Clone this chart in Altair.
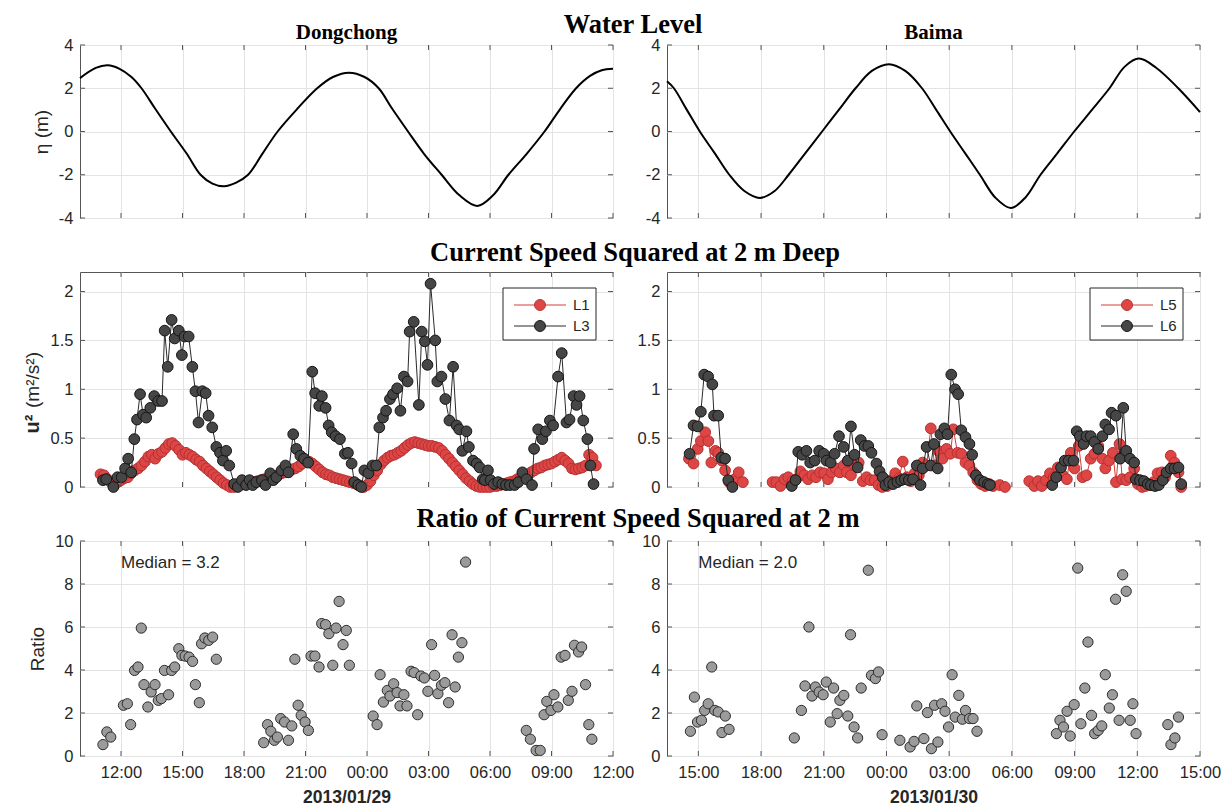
import altair as alt
import pandas as pd

# ---------------- data (hours since 00:00 of the panel's first date) ----------------
# Water level, Dongchong (left, from 2013/01/29 00:00)
wl_left_t = [10.0, 10.77, 11.35, 11.93, 12.51, 13.0, 13.67, 14.43, 15.21, 15.88, 16.46, 17.03,
             17.62, 18.2, 18.87, 19.64, 20.6, 21.57, 22.34, 23.12, 23.88, 24.57, 25.23, 26.0,
             26.78, 27.64, 28.51, 29.38, 30.15, 30.9, 31.79, 32.66, 33.43, 34.2, 34.88, 35.45,
             36.0]
wl_left_v = [2.47, 2.94, 3.06, 2.90, 2.52, 2.0, 1.05, 0.0, -1.03, -2.0, -2.41, -2.53,
             -2.36, -2.0, -1.07, 0.0, 1.05, 2.0, 2.52, 2.72, 2.52, 2.0, 1.05, 0.0,
             -1.03, -2.0, -2.95, -3.44, -2.95, -2.0, -1.03, 0.0, 1.05, 2.0, 2.57, 2.83,
             2.9]
# Water level, Baima (right, from 2013/01/30 00:00)
wl_right_t = [13.5, 13.83, 14.45, 15.07, 15.78, 16.48, 17.2, 17.95, 18.65, 19.32, 20.12, 20.92,
              21.72, 22.52, 23.3, 24.12, 24.9, 25.7, 26.38, 27.05, 27.76, 28.47, 29.2, 29.95,
              30.65, 31.37, 32.18, 32.98, 33.83, 34.67, 35.4, 36.08, 36.9, 37.96, 39.0]
wl_right_v = [2.32, 2.0, 1.0, 0.0, -1.0, -2.0, -2.75, -3.07, -2.75, -2.0, -1.0, 0.0,
              1.0, 2.0, 2.8, 3.11, 2.8, 2.0, 1.0, 0.0, -1.0, -2.0, -3.05, -3.54,
              -3.05, -2.0, -1.0, 0.0, 1.0, 2.0, 3.0, 3.37, 2.95, 2.0, 0.9]

# Current speed squared, L1 (10-min samples starting 11:00, 2013/01/29)
L1_start = 11.0
L1_v = [.13, .12, .08, .05, .03, .05, .07, .09, .10, .14, .17, .19, .22, .26, .31, .33, .29, .34,
        .36, .40, .44, .45, .42, .38, .33, .35, .33, .31, .28, .26, .22, .19, .16, .13, .10, .07,
        .04, .02, .00, .00, .01, .02, .03, .04, .04, .05, .06, .07, .08, .09, .10, .11, .12, .14,
        .15, .16, .18, .19, .21, .24, .27, .26, .24, .21, .18, .15, .13, .12, .10, .09, .08, .07,
        .06, .05, .04, .03, .01, .00, .02, .06, .12, .17, .23, .27, .30, .32, .33, .35, .37, .40,
        .43, .45, .46, .45, .44, .43, .42, .42, .41, .40, .37, .33, .29, .25, .21, .17, .13, .09,
        .06, .03, .01, .00, .00, .00, .00, .01, .01, .02, .03, .04, .05, .06, .08, .10, .12, .13,
        .15, .17, .19, .20, .22, .23, .24, .26, .28, .30, .27, .24, .19, .18, .19, .20, .22, .33,
        .30, .22]
# L3
L3_t = [11.12, 11.28, 11.63, 11.83, 12.03, 12.2, 12.35, 12.5, 12.65, 12.78, 12.93, 13.08, 13.23,
        13.43, 13.62, 13.82, 14.0, 14.13, 14.28, 14.47, 14.62, 14.82, 14.97, 15.1, 15.3, 15.48,
        15.63, 15.78, 15.97, 16.13, 16.27, 16.45, 16.65, 16.83, 16.97, 17.13, 17.28, 17.52, 17.7,
        17.9, 18.1, 18.27, 18.43, 18.6, 18.87, 19.05, 19.28, 19.43, 19.58, 19.83, 20.02, 20.17,
        20.4, 20.55, 20.75, 20.93, 21.13, 21.33, 21.47, 21.67, 21.8, 21.98, 22.13, 22.28, 22.47,
        22.68, 22.92, 23.07, 23.25, 23.38, 23.57, 23.72, 23.87, 24.07, 24.27, 24.45, 24.6, 24.78,
        24.93, 25.12, 25.27, 25.47, 25.63, 25.8, 25.98, 26.08, 26.28, 26.53, 26.67, 26.82, 26.95,
        27.1, 27.33, 27.43, 27.63, 27.82, 28.02, 28.2, 28.37, 28.5, 28.65, 28.85, 28.97, 29.17,
        29.35, 29.5, 29.65, 29.75, 29.9, 30.03, 30.2, 30.4, 30.6, 30.78, 30.97, 31.2, 31.38, 31.58,
        31.78, 32.05, 32.15, 32.35, 32.55, 32.73, 32.92, 33.08, 33.32, 33.5, 33.73, 33.88, 34.08,
        34.22, 34.37, 34.55, 34.75, 34.9, 35.05]
L3_v = [.07, .08, .00, .10, .10, .19, .29, .15, .49, .69, .95, .74, .71,
        .81, .93, .88, .88, 1.60, 1.23, 1.71, 1.52, 1.60, 1.35, 1.54, 1.54, 1.23,
        .98, .66, .98, .96, .73, .61, .41, .35, .27, .37, .22, .03, .00,
        .07, .02, .07, .02, .05, .07, .02, .14, .07, .10, .17, .22, .15,
        .54, .39, .32, .29, .25, 1.18, .96, .83, .93, .81, .63, .56, .52,
        .49, .34, .35, .24, .05, .02, .00, .17, .14, .22, .22, .61, .71,
        .78, .90, .95, 1.01, .78, 1.13, 1.08, 1.59, 1.69, .84, 1.59, 1.49, 1.25,
        2.08, 1.50, 1.08, 1.13, .90, .68, 1.23, .63, .59, .37, .57, .41, .27,
        .24, .20, .08, .07, .17, .07, .03, .05, .03, .02, .02, .02, .05, .15,
        .08, .02, .39, .59, .49, .57, .68, .63, 1.13, 1.37, .66, .69, .93,
        .84, .93, .68, .49, .22, .03]
# L5 (right, hours since 2013/01/30 00:00)
L5_t = [14.55, 14.77, 14.97, 15.12, 15.33, 15.48, 15.62, 15.82, 15.95, 16.13, 16.28, 16.47,
        16.75, 16.93, 17.13,
        18.55, 18.73, 18.93, 19.12, 19.3, 19.5, 19.68, 19.88, 20.07, 20.25, 20.45, 20.63, 20.82,
        21.02, 21.2, 21.38, 21.58, 21.77, 21.95, 22.1, 22.3, 22.48, 22.67, 22.87, 23.05, 23.23,
        23.43, 23.62, 23.8, 24.03, 24.22, 24.42, 24.6, 24.78, 24.98, 25.17, 25.35, 25.55, 25.73,
        25.92, 26.12, 26.3, 26.48, 26.68, 26.87, 27.05, 27.2, 27.4, 27.58, 27.78, 27.97, 28.15,
        28.35, 28.53, 28.72, 28.92, 29.1, 29.42, 29.67,
        30.83, 31.07, 31.25, 31.43, 31.63, 31.82, 32.0, 32.2, 32.43, 32.63, 32.82, 33.0, 33.2,
        33.38, 33.57, 33.77, 33.95, 34.13, 34.33, 34.47, 34.65, 34.83, 34.98, 35.15, 35.28, 35.47,
        35.65, 35.85, 36.03, 36.23, 36.4, 36.6, 36.78, 36.97, 37.17, 37.33, 37.6, 37.78, 37.97,
        38.1]
L5_v = [.29, .24, .39, .47, .56, .47, .25, .37, .35, .27, .17, .05,
        .08, .15, .05,
        .05, .05, .01, .08, .10, .06, .08, .16, .12, .08, .12, .10, .15,
        .14, .08, .15, .19, .15, .22, .15, .12, .22, .25, .06, .10, .07,
        .07, .02, .00, .01, .07, .14, .09, .26, .10, .06, .14, .12, .25,
        .22, .60, .22, .37, .29, .39, .34, .59, .35, .34, .25, .22, .15,
        .07, .03, .01, .03, .01, .02, .00,
        .06, .01, .06, .01, .07, .14, .10, .20, .12, .08, .35, .19, .42,
        .10, .12, .29, .34, .42, .29, .19, .27, .35, .05, .44, .08, .07,
        .10, .19, .03, .00, .01, .02, .05, .14, .15, .10, .32, .25, .15,
        .00]
# L6
L6_t = [14.58, 14.77, 14.97, 15.12, 15.28, 15.47, 15.67, 15.75, 15.95, 16.1, 16.28, 16.43, 16.63,
        19.47, 19.65, 19.78, 19.97, 20.17, 20.35, 20.57, 20.78, 21.0, 21.13, 21.33, 21.52, 21.73,
        21.95, 22.15, 22.3, 22.47, 22.62, 22.77, 22.95, 23.13, 23.28, 23.52, 23.67, 23.82, 23.95,
        24.13, 24.32, 24.52, 24.7, 24.88, 25.07, 25.27, 25.45, 25.63, 25.73, 25.92, 26.12, 26.27,
        26.45, 26.58, 26.77, 26.92, 27.1, 27.28, 27.43, 27.58, 27.78, 27.97, 28.1, 28.28, 28.47,
        28.67, 28.85, 28.95,
        31.93, 32.12, 32.35, 32.53, 32.72, 32.95, 33.1, 33.25, 33.43, 33.57, 33.77, 33.95, 34.13,
        34.33, 34.47, 34.65, 34.77, 34.98, 35.18, 35.33, 35.47, 35.65, 35.85, 35.93, 36.13, 36.32,
        36.5, 36.65, 36.85, 37.03, 37.22, 37.4, 37.6, 37.78, 37.97, 38.1]
L6_v = [.34, .63, .62, .77, 1.15, 1.13, 1.05, .73, .73, .30, .29, .07, .00,
        .01, .07, .36, .33, .37, .25, .27, .37, .34, .27, .25, .34, .52,
        .41, .27, .62, .33, .20, .48, .42, .42, .35, .24, .16, .10, .02,
        .05, .03, .05, .07, .08, .07, .08, .22, .02, .19, .41, .22, .44,
        .19, .54, .60, .54, 1.15, 1.00, .95, .58, .51, .44, .33, .12, .07,
        .05, .03, .02,
        .02, .10, .20, .27, .27, .27, .57, .52, .44, .52, .52, .46, .39,
        .52, .64, .59, .76, .73, .29, .81, .37, .29, .25, .08, .07, .06,
        .03, .02, .01, .02, .07, .15, .19, .19, .20, .03]

# Ratio of current speed squared
ratio_left_t = [11.12, 11.31, 11.5, 12.12, 12.31, 12.47, 12.66, 12.83, 12.99, 13.12, 13.31, 13.47,
                13.66, 13.82, 13.97, 14.12, 14.32, 14.47, 14.62, 14.82, 14.97, 15.13, 15.32, 15.49,
                15.63, 15.82, 15.93, 16.09, 16.28, 16.47, 16.65,
                18.96, 19.15, 19.31, 19.48, 19.63, 19.79, 19.98, 20.17, 20.33, 20.48, 20.64, 20.79,
                20.98, 21.14, 21.27, 21.46, 21.66, 21.79, 21.98, 22.14, 22.33, 22.49, 22.64, 22.83,
                22.99, 23.14,
                24.3, 24.49, 24.64, 24.8, 24.99, 25.12, 25.3, 25.47, 25.61, 25.8, 25.95, 26.15, 26.3,
                26.47, 26.63, 26.8, 26.97, 27.15, 27.3, 27.46, 27.63, 27.8, 27.98, 28.15, 28.3,
                28.46, 28.63, 28.81,
                31.77, 31.97, 32.25, 32.45, 32.64, 32.77, 32.97, 33.12, 33.31, 33.47, 33.66, 33.82,
                34.0, 34.12, 34.32, 34.47, 34.66, 34.82, 34.97]
ratio_left_v = [0.53, 1.12, 0.88, 2.36, 2.43, 1.46, 3.98, 4.14, 5.95, 3.32, 2.28, 2.98,
                3.32, 2.59, 2.67, 3.98, 2.85, 3.98, 4.14, 4.99, 4.68, 4.65, 4.60, 4.40,
                3.32, 2.48, 5.22, 5.49, 5.38, 5.53, 4.50,
                0.62, 1.46, 1.15, 0.73, 0.88, 1.74, 1.58, 0.73, 1.40, 4.50, 2.36, 1.89,
                1.58, 1.19, 4.65, 4.65, 4.14, 6.16, 6.11, 5.69, 4.22, 5.95, 7.19, 5.18,
                5.84, 4.22,
                1.86, 1.46, 3.78, 2.51, 3.05, 2.79, 3.36, 2.95, 2.33, 2.85, 2.33, 3.94, 3.88,
                1.92, 3.72, 3.63, 3.01, 5.18, 3.75, 2.90, 3.29, 3.41, 2.48, 5.64, 3.21,
                4.60, 5.27, 9.02,
                1.19, 0.78, 0.26, 0.26, 1.92, 2.54, 2.12, 2.85, 2.28, 4.60, 4.68, 2.59,
                3.01, 5.15, 4.84, 5.07, 3.32, 1.46, 0.78]
ratio_right_t = [14.62, 14.81, 14.96, 15.15, 15.3, 15.47, 15.64, 15.79, 15.95, 16.13, 16.29, 16.47,
                 19.59, 19.93, 20.1, 20.29, 20.44, 20.6, 20.78, 20.97, 21.12, 21.31, 21.47, 21.64,
                 21.77, 21.96, 22.15, 22.28, 22.45, 22.62, 22.79, 23.13, 23.28, 23.47, 23.62, 23.79,
                 24.64, 25.13, 25.32, 25.45, 25.79, 25.96, 26.15, 26.3, 26.46, 26.64, 26.8, 26.97,
                 27.14, 27.29, 27.46, 27.63, 27.78, 27.97, 28.14, 28.33,
                 32.13, 32.3, 32.47, 32.64, 32.79, 32.98, 33.15, 33.3, 33.49, 33.64, 33.81, 33.96,
                 34.13, 34.3, 34.47, 34.66, 34.81, 34.96, 35.13, 35.3, 35.47, 35.66, 35.79, 35.94,
                 37.46, 37.61, 37.8, 37.97]
ratio_right_v = [1.15, 2.74, 1.58, 1.66, 2.12, 2.43, 4.14, 2.12, 2.05, 1.09, 1.86, 1.24,
                 0.84, 2.12, 3.26, 6.00, 2.79, 3.21, 2.98, 2.85, 3.44, 1.58, 3.16, 1.97,
                 2.59, 2.82, 1.86, 5.64, 1.35, 0.84, 3.16, 8.64, 3.75, 3.60, 3.91, 0.99,
                 0.73, 0.42, 0.68, 2.33, 0.81, 2.02, 0.34, 2.36, 0.65, 2.43, 2.08, 1.35,
                 3.78, 1.81, 2.82, 1.71, 2.12, 1.74, 1.74, 1.15,
                 1.04, 1.66, 1.35, 2.08, 0.93, 2.39, 8.74, 1.50, 3.16, 5.30, 1.89, 1.04,
                 1.19, 1.40, 3.78, 2.23, 2.85, 7.29, 1.66, 8.43, 7.66, 1.66, 2.43, 1.04,
                 1.46, 0.53, 0.84, 1.81]
median_left = 3.2
median_right = 2.0
median_pos_left = (12.0, 9.0)
median_pos_right = (15.0, 9.0)

# texts
row_titles = ["Water Level", "Current Speed Squared at 2 m Deep",
              "Ratio of Current Speed Squared at 2 m"]
site_titles = ["Dongchong", "Baima"]
date_titles = ["2013/01/29", "2013/01/30"]
legend_names = [["L1", "L3"], ["L5", "L6"]]
y_titles = ["η (m)", ["u²", "(m²/s²)"], "Ratio"]

# axes
left_xdom = [10, 36]
left_xticks = [12, 15, 18, 21, 24, 27, 30, 33, 36]
right_xdom = [13.5, 39]
right_xticks = [15, 18, 21, 24, 27, 30, 33, 36, 39]
wl_dom, wl_ticks = [-4, 4], [-4, -2, 0, 2, 4]
sp_dom, sp_ticks = [0, 2.2], [0, 0.5, 1, 1.5, 2]
ra_dom, ra_ticks = [0, 10], [0, 2, 4, 6, 8, 10]

# ---------------- style ----------------
SANS = "Liberation Sans"
SERIF = "Liberation Serif"
LAB = "#262626"
GRID = "#e3e3e3"
FRAME = "#555555"
W = 533
GAP = 54
H1, H2, H3 = 173, 215, 215
RED_F, RED_S, RED_L = "#de4646", "#b53030", "#d63c3c"
BLK_F, BLK_S, BLK_L = "#464646", "#151515", "#2a2a2a"
LBL = "(datum.value % 24 < 10 ? '0' : '') + (datum.value % 24) + ':00'"
TICK_FS = 16.5
YTITLE_FS = 19


def seg_df(t, v):
    seg, s = [], 0
    for i in range(len(t)):
        if i and t[i] - t[i - 1] > 1.0:
            s += 1
        seg.append(s)
    return pd.DataFrame({"t": t, "v": v, "seg": seg})


def encs(xdom, xticks, ydom, yticks, show_xlabels, xtitle, ytitle):
    xa = dict(values=xticks, grid=True, ticks=False, domain=False, title=xtitle, labels=show_xlabels)
    if show_xlabels:
        xa["labelExpr"] = LBL
    xs = alt.X("t:Q", scale=alt.Scale(domain=xdom, nice=False, zero=False), axis=alt.Axis(**xa))
    ys = alt.Y("v:Q", scale=alt.Scale(domain=ydom, nice=False, zero=False),
               axis=alt.Axis(values=yticks, grid=True, ticks=False, domain=False, title=ytitle,
                             labelExpr="'' + datum.value"))
    return xs, ys


def tick_layers(xs, ys, xticks, yticks, H):
    xt = pd.DataFrame({"t": xticks})
    yt = pd.DataFrame({"v": yticks})
    m = dict(color=FRAME, strokeWidth=1)
    return [
        alt.Chart(xt).mark_rule(**m).encode(x=xs, y=alt.value(0), y2=alt.value(5)),
        alt.Chart(xt).mark_rule(**m).encode(x=xs, y=alt.value(H - 5), y2=alt.value(H)),
        alt.Chart(yt).mark_rule(**m).encode(y=ys, x=alt.value(0), x2=alt.value(5)),
        alt.Chart(yt).mark_rule(**m).encode(y=ys, x=alt.value(W - 5), x2=alt.value(W)),
    ]


def text_layer(text, x, y, size, font=SERIF, weight="bold", color="black", angle=0,
               baseline="alphabetic"):
    return alt.Chart(pd.DataFrame({"label": [text]})).mark_text(
        font=font, fontSize=size, fontWeight=weight, color=color, align="center",
        baseline=baseline, angle=angle).encode(text="label:N", x=alt.value(x), y=alt.value(y))


def wl_panel(t, v, xdom, xticks, ytitle, extra):
    xs, ys = encs(xdom, xticks, wl_dom, wl_ticks, False, "", ytitle)
    line = alt.Chart(pd.DataFrame({"t": t, "v": v})).mark_line(
        color="black", strokeWidth=2, interpolate="catmull-rom").encode(x=xs, y=ys)
    return alt.layer(line, *tick_layers(xs, ys, xticks, wl_ticks, H1), *extra).properties(
        width=W, height=H1)


def legend_layers(names):
    out = [alt.Chart(pd.DataFrame({"a": [0]})).mark_rect(
        fill="white", stroke=LAB, strokeWidth=1).encode(
        x=alt.value(423), x2=alt.value(516), y=alt.value(16), y2=alt.value(68))]
    styles = [(RED_F, RED_S, RED_L), (BLK_F, BLK_S, BLK_L)]
    for i, (nm, (f, s, l)) in enumerate(zip(names, styles)):
        yy = 33 + 21 * i
        d = pd.DataFrame({"label": [nm]})
        out.append(alt.Chart(d).mark_rule(color=l, strokeWidth=1.2).encode(
            x=alt.value(434), x2=alt.value(486), y=alt.value(yy)))
        out.append(alt.Chart(d).mark_point(filled=True, fill=f, stroke=s, strokeWidth=1,
                                           size=120, opacity=1).encode(
            x=alt.value(460), y=alt.value(yy)))
        out.append(alt.Chart(d).mark_text(align="left", baseline="middle", font=SANS,
                                          fontSize=15, color=LAB).encode(
            x=alt.value(493), y=alt.value(yy), text="label:N"))
    return out


def speed_panel(rt, rv, bt, bv, names, xdom, xticks, ytitle, extra):
    xs, ys = encs(xdom, xticks, sp_dom, sp_ticks, False, "", ytitle)
    layers = []
    for (t, v), (f, s, l) in [((rt, rv), (RED_F, RED_S, RED_L)), ((bt, bv), (BLK_F, BLK_S, BLK_L))]:
        d = seg_df(t, v)
        layers.append(alt.Chart(d).mark_line(color=l, strokeWidth=1).encode(
            x=xs, y=ys, detail="seg:N"))
        layers.append(alt.Chart(d).mark_point(filled=True, fill=f, stroke=s, strokeWidth=1,
                                              size=115, opacity=1).encode(x=xs, y=ys))
    layers += tick_layers(xs, ys, xticks, sp_ticks, H2)
    layers += legend_layers(names)
    layers += extra
    return alt.layer(*layers).properties(width=W, height=H2)


def ratio_panel(t, v, med, pos, xdom, xticks, xtitle, ytitle, extra):
    xs, ys = encs(xdom, xticks, ra_dom, ra_ticks, True, xtitle, ytitle)
    pts = alt.Chart(pd.DataFrame({"t": t, "v": v})).mark_point(
        filled=True, fill="#9b9b9b", stroke="#2e2e2e", strokeWidth=1, size=105,
        opacity=1).encode(x=xs, y=ys)
    txt = alt.Chart(pd.DataFrame({"t": [pos[0]], "v": [pos[1]],
                                  "label": [f"Median = {med:.1f}"]})).mark_text(
        align="left", baseline="middle", font=SANS, fontSize=17, color=LAB).encode(
        x=xs, y=ys, text="label:N")
    return alt.layer(pts, txt, *tick_layers(xs, ys, xticks, ra_ticks, H3), *extra).properties(
        width=W, height=H3)


L1_t = [L1_start + i / 6 for i in range(len(L1_v))]
ROW_MID = W + GAP / 2  # centre of the two-panel row, relative to left plot

panels = [
    wl_panel(wl_left_t, wl_left_v, left_xdom, left_xticks, y_titles[0],
             [text_layer(site_titles[0], W / 2, -6, 21),
              text_layer(row_titles[0], ROW_MID - 7, -12, 26.5)]),
    wl_panel(wl_right_t, wl_right_v, right_xdom, right_xticks, "",
             [text_layer(site_titles[1], W / 2, -6, 21)]),
    speed_panel(L1_t, L1_v, L3_t, L3_v, legend_names[0], left_xdom, left_xticks, "",
                [text_layer(row_titles[1], ROW_MID - 5, -11, 26.5),
                 text_layer(y_titles[1][0], -47, 152, YTITLE_FS + 1, font=SANS, weight="bold",
                            color=LAB, angle=270, baseline="middle"),
                 text_layer(y_titles[1][1], -47, 108, YTITLE_FS, font=SANS, weight="normal",
                            color=LAB, angle=270, baseline="middle")]),
    speed_panel(L5_t, L5_v, L6_t, L6_v, legend_names[1], right_xdom, right_xticks, "", []),
    ratio_panel(ratio_left_t, ratio_left_v, median_left, median_pos_left, left_xdom,
                left_xticks, date_titles[0], y_titles[2],
                [text_layer(row_titles[2], ROW_MID - 2, -14, 26.5)]),
    ratio_panel(ratio_right_t, ratio_right_v, median_right, median_pos_right, right_xdom,
                right_xticks, date_titles[1], "", []),
]

chart = alt.concat(*panels, columns=2, spacing=GAP, bounds="flush", align="each").properties(
    padding={"left": 22, "top": 11, "right": 5, "bottom": 5}
).configure(background="white").configure_view(
    stroke=FRAME, strokeWidth=1
).configure_axis(
    labelFont=SANS, labelFontSize=TICK_FS, labelColor=LAB, titleFont=SANS, titleFontSize=YTITLE_FS,
    titleColor=LAB, titleFontWeight="normal", gridColor=GRID, gridWidth=1, tickSize=0,
    labelPadding=7, labelOverlap=False, labelFlush=False
).configure_axisX(labelPadding=8, titleFontWeight="bold", titlePadding=8,
                  titleFontSize=17.6).configure_axisY(titlePadding=7)

chart.save("out.html", embed_options={"renderer": "svg", "actions": False})
